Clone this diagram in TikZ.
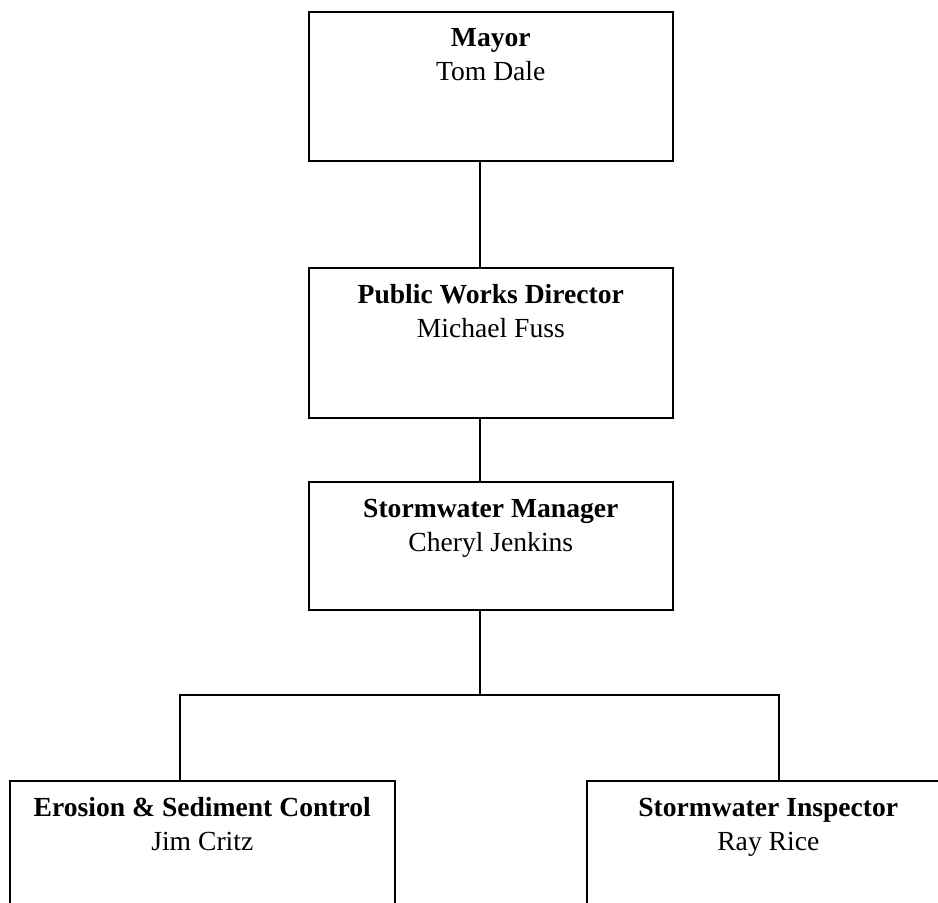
\documentclass[tikz,border=0pt]{standalone}
\usepackage{fontspec}
\setmainfont{Liberation Serif}
\begin{document}
\begin{tikzpicture}[x=1pt,y=-1pt,
  box/.style={draw=black, line width=1.6pt, fill=white, rectangle, inner sep=0pt, anchor=north west},
  conn/.style={draw=black, line width=1.4pt},
  ttl/.style={anchor=base, inner sep=0pt, font=\fontsize{27.6}{34}\selectfont\bfseries},
  nm/.style={anchor=base, inner sep=0pt, font=\fontsize{27.6}{34}\selectfont}]
\useasboundingbox (0,0) rectangle (938,903);
% boxes
\node[box, minimum width=364pt, minimum height=149pt] (mayor) at (308,11) {};
\node[box, minimum width=364pt, minimum height=150pt] (pwd) at (308,267) {};
\node[box, minimum width=364pt, minimum height=128pt] (sm) at (308,481) {};
\node[box, minimum width=385pt, minimum height=140pt] (esc) at (9,780) {};
\node[box, minimum width=363pt, minimum height=140pt] (insp) at (586,780) {};
% texts
\node[ttl] (mayorT) at ([yshift=-35pt]mayor.north) {Mayor};
\node[nm]  (mayorN) at ([yshift=-69pt]mayor.north) {Tom Dale};
\node[ttl] (pwdT) at ([yshift=-36pt]pwd.north) {Public Works Director};
\node[nm]  (pwdN) at ([yshift=-70pt]pwd.north) {Michael Fuss};
\node[ttl] (smT) at ([yshift=-36pt]sm.north) {Stormwater Manager};
\node[nm]  (smN) at ([yshift=-70pt]sm.north) {Cheryl Jenkins};
\node[ttl] (escT) at ([yshift=-36pt]esc.north) {Erosion \& Sediment Control};
\node[nm]  (escN) at ([yshift=-70pt]esc.north) {Jim Critz};
\node[ttl] (inspT) at ([yshift=-36pt]insp.north) {Stormwater Inspector};
\node[nm]  (inspN) at ([yshift=-70pt]insp.north) {Ray Rice};
% connectors
\coordinate (trunk) at (480,0);
\coordinate (busL) at (180,695);
\coordinate (busR) at (779,695);
\draw[conn] (trunk |- mayor.south) -- (trunk |- pwd.north);
\draw[conn] (trunk |- pwd.south) -- (trunk |- sm.north);
\draw[conn] (trunk |- sm.south) -- (trunk |- busL);
\draw[conn] (busL |- esc.north) -- (busL) -- (busR) -- (busR |- insp.north);
\end{tikzpicture}
\end{document}
